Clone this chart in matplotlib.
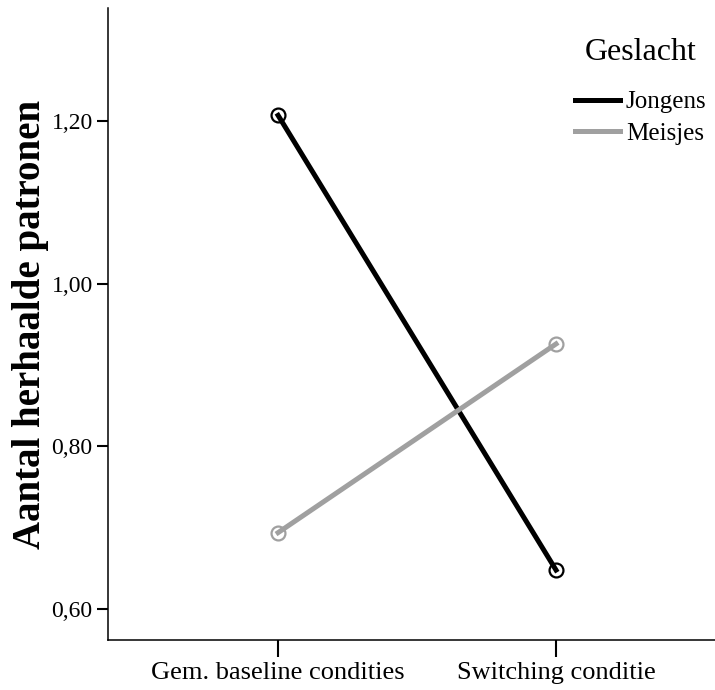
import matplotlib.pyplot as plt

# data
conditions = ['Gem. baseline condities', 'Switching conditie']
jongens = [1.207, 0.648]
meisjes = [0.694, 0.926]
yticks = [0.60, 0.80, 1.00, 1.20]
ytick_labels = ['0,60', '0,80', '1,00', '1,20']

plt.rcParams['font.family'] = ['Liberation Serif', 'DejaVu Serif']

fig = plt.figure(figsize=(7.15, 6.9), dpi=100)
ax = fig.add_axes([108 / 715, 50 / 690, 607 / 715, 632 / 690])

x = range(len(conditions))
grey = '#a0a0a0'
ax.plot(x, jongens, color='black', lw=3.6, marker='o', ms=10, mfc='none',
        mec='black', mew=1.6, label='Jongens')
ax.plot(x, meisjes, color=grey, lw=3.6, marker='o', ms=10, mfc='none',
        mec=grey, mew=1.6, label='Meisjes')

ax.set_xlim(-0.612, 1.572)
ax.set_ylim(0.562, 1.339)
ax.set_xticks(list(x))
ax.set_xticklabels(conditions, fontsize=19)
ax.set_yticks(yticks)
ax.set_yticklabels(ytick_labels, fontsize=17)
ax.tick_params(axis='x', length=12, width=1.5, pad=4)
ax.tick_params(axis='y', length=8, width=1.5, pad=3)

ax.spines['top'].set_visible(False)
ax.spines['right'].set_visible(False)
ax.spines['left'].set_linewidth(1.1)
ax.spines['bottom'].set_linewidth(1.1)

ax.set_ylabel('Aantal herhaalde patronen', fontsize=28, fontweight='bold', labelpad=2)

leg = ax.legend(title='Geslacht', loc='upper right', bbox_to_anchor=(1.015, 0.98),
                frameon=False, fontsize=18, title_fontsize=23,
                handlelength=1.8, handletextpad=0.25, labelspacing=0.35,
                borderaxespad=0.3)
for line in leg.get_lines():
    line.set_marker('')
leg._legend_box.sep = 17

fig.savefig('out.png', dpi=100)
